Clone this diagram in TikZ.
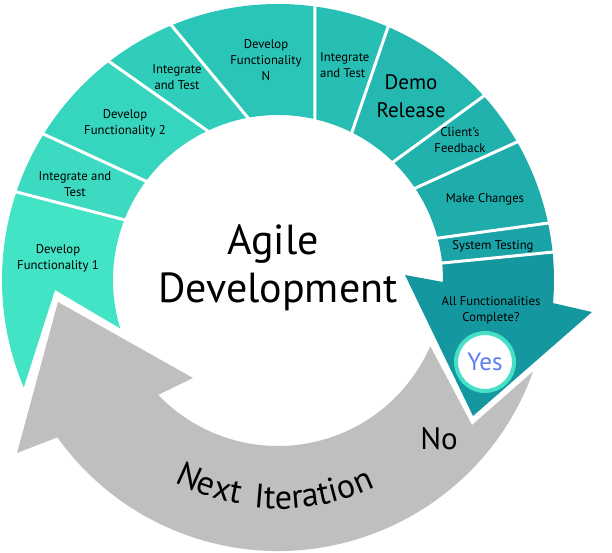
\documentclass[tikz,border=0pt]{standalone}
\usepackage{fontspec}
\setmainfont{PT Sans}
\usetikzlibrary{decorations.text}
\definecolor{cA}{HTML}{43E3C6}
\definecolor{cB}{HTML}{3CDBC1}
\definecolor{cC}{HTML}{36D5BE}
\definecolor{cD}{HTML}{30CDBA}
\definecolor{cE}{HTML}{2AC5B6}
\definecolor{cF}{HTML}{27BEB3}
\definecolor{cG}{HTML}{24B8B0}
\definecolor{cH}{HTML}{21B2AE}
\definecolor{cI}{HTML}{1EADAB}
\definecolor{cJ}{HTML}{1AA4A7}
\definecolor{cK}{HTML}{14979F}
\definecolor{grayarrow}{HTML}{BFBFBF}
\definecolor{yesring}{HTML}{45E0C5}
\definecolor{yesblue}{HTML}{5A7FF0}
\newcommand\ringseg[5]{\fill[#1] (#2:276pt) arc[start angle=#2,end angle=#4,radius=276pt] -- (#5:165pt) arc[start angle=#5,end angle=#3,radius=165pt] -- cycle;}
\newcommand\ringdiv[2]{\draw[divider] (#2:165pt) -- (#1:276pt);}
\begin{document}
\begin{tikzpicture}[x=1pt,y=1pt,
  divider/.style={white,line width=3pt,line cap=rect},
  seglabel/.style={font=\fontsize{12.7}{16}\selectfont,align=center,text=black,inner sep=0pt},
  biglabel/.style={font=\fontsize{21}{28}\selectfont,align=center,text=black,inner sep=0pt},
  arcword/.style={decorate,decoration={text along path,text align=center,text={|\fontsize{34}{34}\selectfont|#1}}}]
\useasboundingbox (-278,-273) rectangle (334,280);
\fill[white] (-278,-273) rectangle (334,280);
% segment 1 (notched at bottom)
\fill[cA] (161.4:276pt) arc[start angle=161.4,end angle=202.9,radius=276pt] -- (-223,-10) -- (197.1:165pt) arc[start angle=197.1,end angle=158.6,radius=165pt] -- cycle;
\ringseg{cB}{161.4}{158.6}{148.1}{143.2}
\ringseg{cC}{148.1}{143.2}{127.7}{115.3}
\ringseg{cD}{127.7}{115.3}{112.7}{100.5}
\ringseg{cE}{112.7}{100.5}{82.3}{77.1}
\ringseg{cF}{82.3}{77.1}{66.5}{63.4}
\ringseg{cG}{66.5}{63.4}{41.8}{45.7}
\ringseg{cH}{41.8}{45.7}{30.0}{33.8}
\ringseg{cI}{30.0}{33.8}{11.9}{14.7}
\ringseg{cJ}{11.9}{14.7}{5.8}{5.9}
% dark arrow
\fill[cK] (5.8:276pt) arc[start angle=5.8,end angle=-4.8,radius=276pt] -- (314,-32) -- (195,-136) -- (127,5) -- (-0.7:165pt) arc[start angle=-0.7,end angle=5.9,radius=165pt] -- cycle;
% dividers
\ringdiv{161.4}{158.6}
\ringdiv{148.1}{143.2}
\ringdiv{127.7}{115.3}
\ringdiv{112.7}{100.5}
\ringdiv{82.3}{77.1}
\ringdiv{66.5}{63.4}
\ringdiv{41.8}{45.7}
\ringdiv{30.0}{33.8}
\ringdiv{11.9}{14.7}
\ringdiv{5.8}{5.9}
% gray arrow
\fill[grayarrow] (-19.7:271pt) arc[start angle=-19.7,end angle=-144.5,radius=271pt] -- (-261,-173) -- (-220,-22) -- (-85,-98) -- (-136.2:166pt) arc[start angle=-136.2,end angle=-23.5,radius=166pt] -- (194,-145) -- cycle;
% yes circle
\node[circle,draw=yesring,line width=4pt,fill=white,minimum size=58pt,inner sep=0pt,text=yesblue,font=\fontsize{25}{25}\selectfont] (yes) at (207,-82) {Yes};
% labels
\node[seglabel] (df1) at (-220,22) {Develop\\Functionality 1};
\node[seglabel] (it1) at (-203,95.5) {Integrate and\\Test};
\node[seglabel] (df2) at (-153,157) {Develop\\Functionality 2};
\node[seglabel] (it2) at (-101,202.5) {Integrate\\and Test};
\node[seglabel] (dfn) at (-12,220) {Develop\\Functionality\\N};
\node[seglabel,align=left,anchor=west] (it3) at (42,214.5) {Integrate\\and Test};
\node[biglabel] (demo) at (133,184) {Demo\\Release};
\node[seglabel] (client) at (182,139.5) {Client’s\\Feedback};
\node[seglabel] (make) at (207,81) {Make Changes};
\node[seglabel] (systest) at (215,34) {System Testing};
\node[seglabel] (allf) at (213,-30) {All Functionalities\\Complete?};
\node[inner sep=0pt,anchor=base,font=\fontsize{42}{48}\selectfont] (agile) at (-5,25) {Agile};
\node[inner sep=0pt,anchor=base,font=\fontsize{42}{48}\selectfont] (devel) at (0,-23) {Development};
\node[inner sep=0pt,font=\fontsize{31}{31}\selectfont] (no) at (161,-159) {No};
\path[arcword=Next] (-128.5:227pt) arc[start angle=-128.5,end angle=-88.5,radius=227pt];
\path[arcword=Iteration] (-110.5:229pt) arc[start angle=-110.5,end angle=-50.5,radius=229pt];
\end{tikzpicture}
\end{document}
